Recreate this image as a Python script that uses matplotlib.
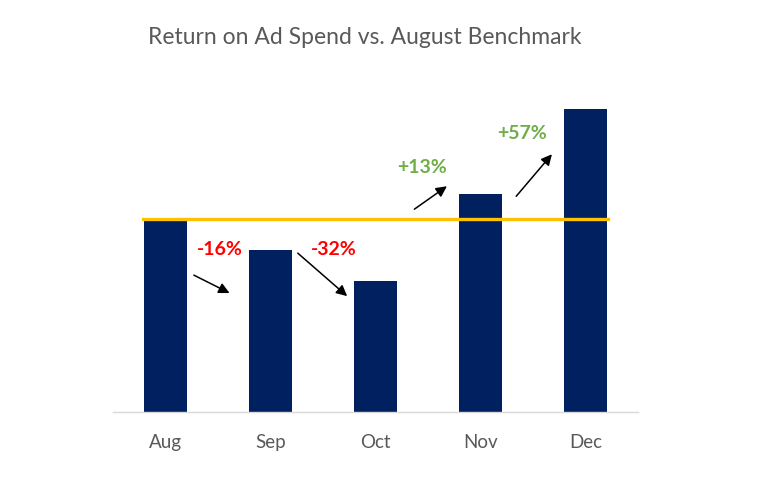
import numpy as np
import matplotlib
matplotlib.use('Agg')
import matplotlib.pyplot as plt

plt.rcParams['font.family'] = ['Lato', 'DejaVu Sans']

months = ['Aug', 'Sep', 'Oct', 'Nov', 'Dec']
roas = [100, 84, 68, 113, 157]
benchmark = roas[0]

# где стоят подписи и стрелки (в координатах данных)
label_xy = [(0.52, 84.5), (1.60, 84.5), (2.44, 127), (3.40, 144.6)]
arrow_from = [(0.27, 71.0), (1.26, 82.4), (2.37, 105.2), (3.34, 111.9)]
arrow_to = [(0.61, 61.7), (1.73, 60.1), (2.68, 117.1), (3.68, 133.7)]

fig = plt.figure(figsize=(7.6, 4.93), dpi=100)
ax = fig.add_axes([113 / 760, 1 - 412 / 493, 525 / 760, 347 / 493])

x = np.arange(len(months))
ax.bar(x, roas, width=0.41, color='#002060', zorder=2)
ax.plot([-0.21, 4.21], [benchmark, benchmark], color='#FFC000', lw=2.4, zorder=3)

for i in range(1, len(roas)):
    pct = round((roas[i] / benchmark - 1) * 100)
    col = '#70AD47' if pct > 0 else '#FF0000'
    txt = ('+%d%%' % pct) if pct > 0 else ('%d%%' % pct)
    lx, ly = label_xy[i - 1]
    ax.text(lx, ly, txt, color=col, fontsize=14, fontweight='bold',
            ha='center', va='center')
    ax.annotate('', xy=arrow_to[i - 1], xytext=arrow_from[i - 1],
                arrowprops=dict(arrowstyle='-|>', color='black', lw=1.1,
                                mutation_scale=16, shrinkA=0, shrinkB=0))

ax.set_xlim(-0.5, 4.5)
ax.set_ylim(0, 180)
ax.set_xticks(x)
ax.set_xticklabels(months, fontsize=13.5, color='#595959')
ax.tick_params(axis='x', length=0, pad=16)
ax.set_yticks([])
for s in ['top', 'right', 'left']:
    ax.spines[s].set_visible(False)
ax.spines['bottom'].set_color('#D9D9D9')
ax.spines['bottom'].set_linewidth(1)

fig.text(365 / 760, 1 - 38 / 493, 'Return on Ad Spend vs. August Benchmark',
         ha='center', va='center', fontsize=16.5, color='#595959')

plt.savefig('out.png', dpi=100)
